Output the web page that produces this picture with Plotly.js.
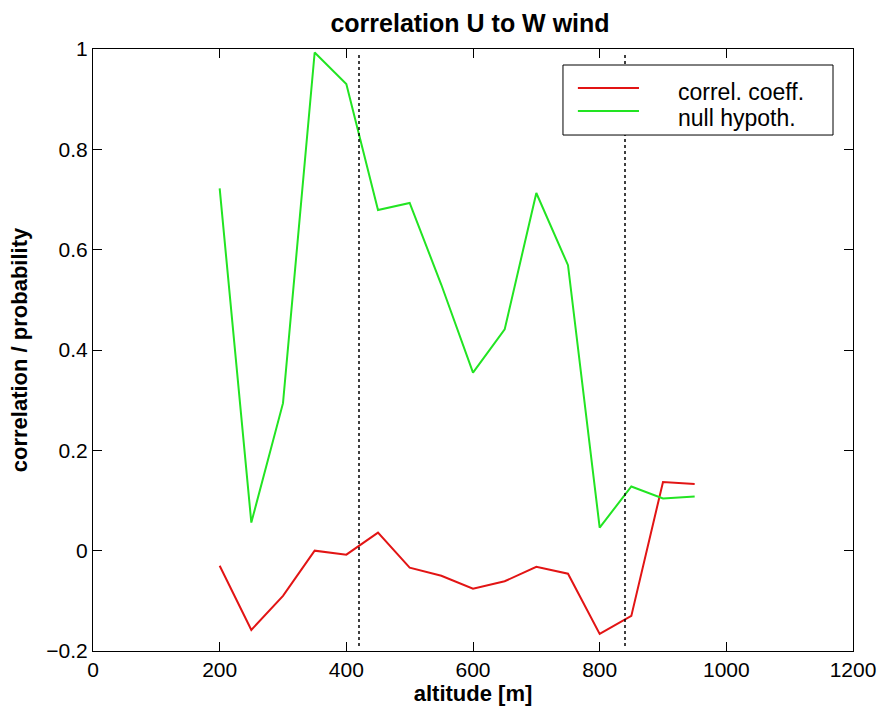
<!DOCTYPE html>
<html>
<head>
<meta charset="utf-8">
<script src="https://cdn.plot.ly/plotly-3.0.1.min.js"></script>
<style>html,body{margin:0;padding:0;background:#fff;}#chart{width:881px;height:706px;}</style>
</head>
<body>
<div id="chart"></div>
<script>
const altitude = [200, 250, 300, 350, 400, 450, 500, 550, 600, 650, 700, 750, 800, 850, 900, 950];
const correlCoeff = [-0.03, -0.158, -0.09, 0.0, -0.008, 0.036, -0.034, -0.05, -0.076, -0.061, -0.032, -0.046, -0.166, -0.13, 0.137, 0.133];
const nullHypoth = [0.722, 0.056, 0.294, 0.993, 0.93, 0.679, 0.693, 0.53, 0.355, 0.441, 0.713, 0.569, 0.046, 0.128, 0.104, 0.108];
const markerAltitudes = [420, 840];
const seriesNames = ['correl. coeff.', 'null hypoth.'];
const seriesColors = ['rgb(226,20,20)', 'rgb(34,228,34)'];
const xTicks = [0, 200, 400, 600, 800, 1000, 1200];
const yTicks = [-0.2, 0, 0.2, 0.4, 0.6, 0.8, 1];
const yTickText = ['\u22120.2', '0', '0.2', '0.4', '0.6', '0.8', '1'];

const traces = [
  {x: altitude, y: correlCoeff, mode: 'lines', name: seriesNames[0], line: {color: seriesColors[0], width: 2}},
  {x: altitude, y: nullHypoth, mode: 'lines', name: seriesNames[1], line: {color: seriesColors[1], width: 2}}
];

const shapes = markerAltitudes.map(a => ({
  type: 'line', xref: 'x', yref: 'y', x0: a, x1: a, y0: -0.19, y1: 0.99,
  line: {color: 'black', width: 1.5, dash: 'dot'}
}));

// hand-drawn legend box (MATLAB style)
shapes.push({type: 'rect', xref: 'paper', yref: 'paper', x0: 0.6184, x1: 0.9737, y0: 0.8571, y1: 0.9734,
  line: {color: 'black', width: 1}, fillcolor: 'white', layer: 'above'});
const legendLineY = [0.9352, 0.897];
const legendTextY = [0.9286, 0.8854];
const annotations = [];
seriesNames.forEach((n, i) => {
  shapes.push({type: 'line', xref: 'paper', yref: 'paper', x0: 0.638, x1: 0.7184, y0: legendLineY[i], y1: legendLineY[i],
    line: {color: seriesColors[i], width: 2}, layer: 'above'});
  annotations.push({xref: 'paper', yref: 'paper', x: 0.7684, y: legendTextY[i], xanchor: 'left', yanchor: 'middle',
    text: n, showarrow: false, font: {size: 23, color: 'black'}, borderpad: 0});
});

const layout = {
  width: 881, height: 706,
  margin: {l: 93, r: 28, t: 49, b: 55},
  paper_bgcolor: 'white', plot_bgcolor: 'white',
  font: {family: 'Liberation Sans, Arial, sans-serif', color: 'black', size: 21},
  title: {text: '<b>correlation U to W wind</b>', font: {size: 25}, x: 470 / 881, xanchor: 'center', y: 1 - 23 / 706, yanchor: 'middle'},
  xaxis: {
    range: [0, 1200], tickvals: xTicks, ticktext: xTicks.map(String),
    ticks: 'inside', ticklen: 9, tickcolor: 'black', mirror: 'allticks',
    showline: true, linecolor: 'black', linewidth: 1, showgrid: false, zeroline: false,
    title: {text: '<b>altitude [m]</b>', font: {size: 22}, standoff: 0},
    tickfont: {size: 21}
  },
  yaxis: {
    range: [-0.2, 1], tickvals: yTicks, ticktext: yTickText,
    ticks: 'inside', ticklen: 9, tickcolor: 'black', mirror: 'allticks',
    showline: true, linecolor: 'black', linewidth: 1, showgrid: false, zeroline: false,
    title: {text: '<b>correlation / probability</b>', font: {size: 22}, standoff: 12},
    tickfont: {size: 21}
  },
  shapes: shapes,
  annotations: annotations,
  showlegend: false
};

Plotly.newPlot('chart', traces, layout, {displayModeBar: false, staticPlot: true});
</script>
</body>
</html>
